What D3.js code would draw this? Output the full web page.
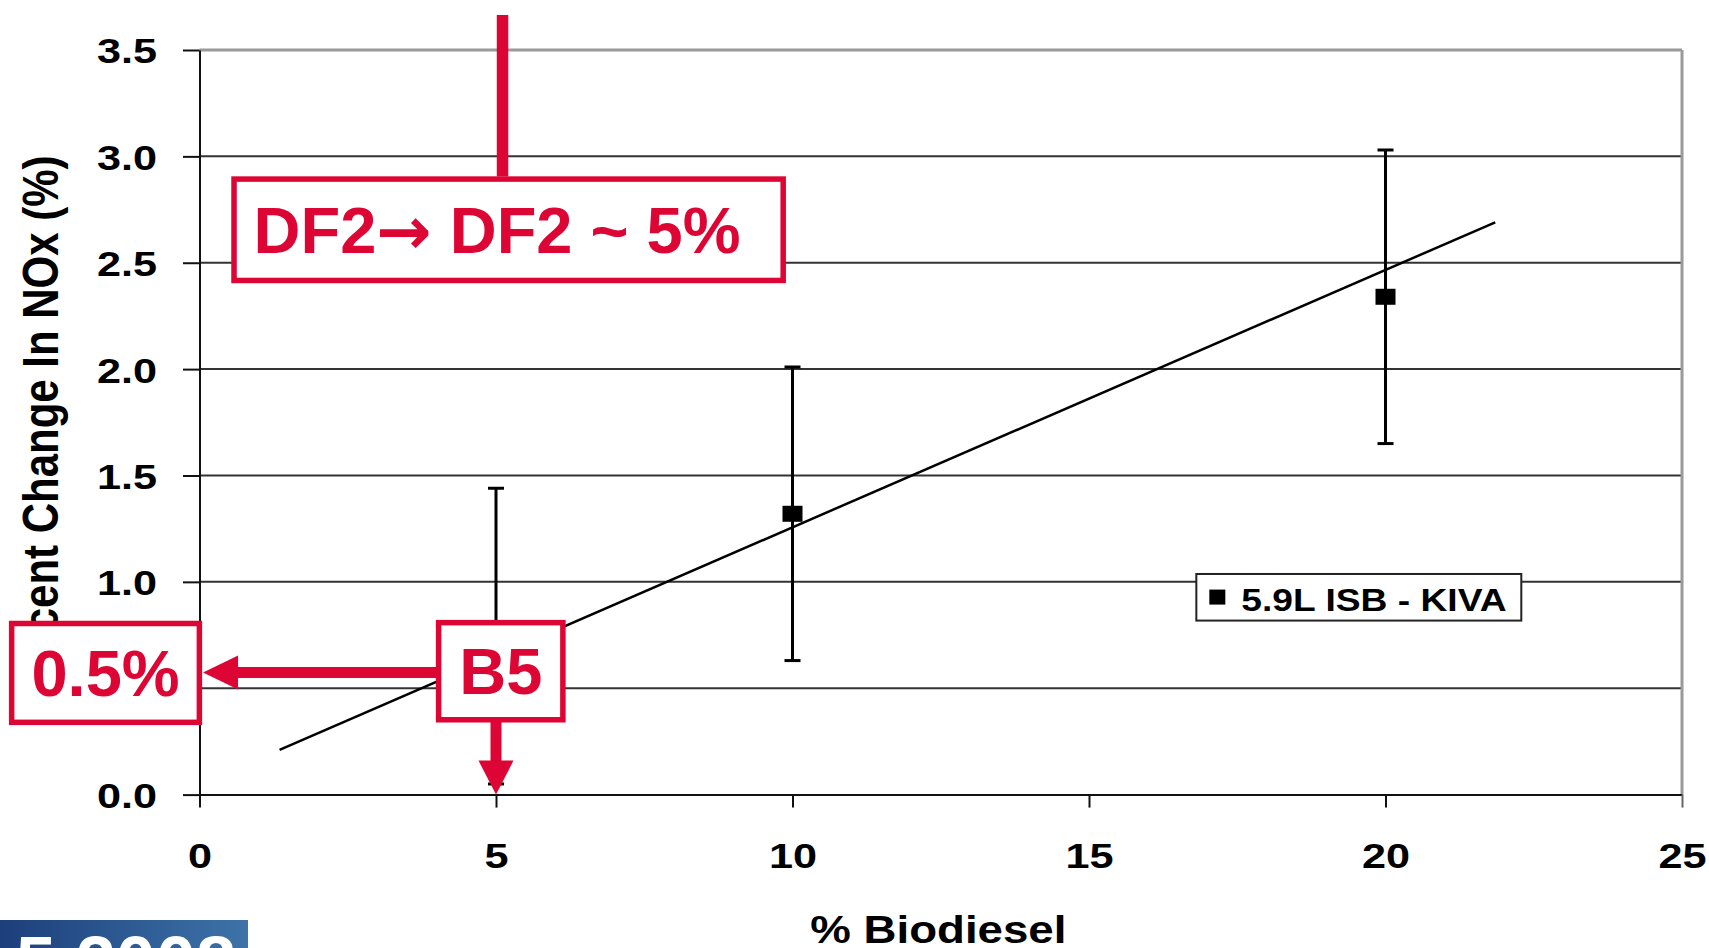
<!DOCTYPE html>
<meta charset="utf-8">
<style>
body { margin: 0; background: #fff; }
text { font-family: "Liberation Sans", Arial, sans-serif; font-weight: bold; }
</style>
<svg width="1709" height="948" id="chart"></svg>
<script src="https://d3js.org/d3.v7.min.js"></script>
<script>
// data
var blends = [5, 10, 20];
var noxMean = [0.74, 1.32, 2.34];
var noxHigh = [1.44, 2.01, 3.03];
var noxLow = [0.05, 0.63, 1.65];
var fitX = [1.35, 21.85];
var fitY = [0.21, 2.69];
var xTicks = [0, 5, 10, 15, 20, 25];
var yTicks = [0, 0.5, 1, 1.5, 2, 2.5, 3, 3.5];
var seriesName = "5.9L ISB - KIVA";
var xTitle = "% Biodiesel";
var yTitle = "Percent Change In NOx (%)";
var noteTop = ["DF2", "\u2192", " DF2 ~ 5%"];
var noteLeft = "0.5%";
var noteBlend = "B5";

var red = "#dd0533";
var svg = d3.select("#chart");

var x = d3.scaleLinear().domain([0, 25]).range([199.5, 1682]);
var y = d3.scaleLinear().domain([0, 3.5]).range([794.6, 50]);

// gridlines
svg.append("g")
  .selectAll("line")
  .data(yTicks.filter(d => d > 0))
  .enter().append("line")
    .attr("x1", x(0)).attr("x2", x(25))
    .attr("y1", d => y(d)).attr("y2", d => y(d))
    .attr("stroke", d => d === 3.5 ? "#9a9a9a" : "#333")
    .attr("stroke-width", d => d === 3.5 ? 3 : 2);

// right border
svg.append("line")
  .attr("x1", x(25)).attr("x2", x(25))
  .attr("y1", y(3.5)).attr("y2", y(0))
  .attr("stroke", "#9a9a9a").attr("stroke-width", 3);

var yAxis = svg.append("g")
  .attr("transform", `translate(${x(0)},0)`)
  .call(d3.axisLeft(y).tickValues(yTicks).tickFormat(d3.format(".1f")).tickSize(16.5).tickSizeOuter(0));
yAxis.select(".domain").attr("stroke", "#111").attr("stroke-width", 2);
yAxis.selectAll(".tick line").attr("stroke", "#111").attr("stroke-width", 2);
yAxis.selectAll(".tick text")
  .attr("x", null).attr("dy", "0.36em")
  .attr("transform", "translate(-42.5,0) scale(1.2,1)")
  .attr("font-size", 36).attr("fill", "#000");

var xAxis = svg.append("g")
  .attr("transform", `translate(0,${y(0)})`)
  .call(d3.axisBottom(x).tickValues(xTicks).tickSize(13).tickSizeOuter(0));
xAxis.select(".domain").attr("stroke", "#111").attr("stroke-width", 2);
xAxis.selectAll(".tick line").attr("stroke", "#111").attr("stroke-width", 2);
xAxis.selectAll(".tick text")
  .attr("x", 0).attr("y", 73.5).attr("dy", null)
  .attr("transform", "scale(1.2,1)")
  .attr("font-size", 36).attr("fill", "#000");
xAxis.selectAll(".tick").filter(d => d === 25).select("line").attr("stroke", "#666");

// axis titles
svg.append("text")
  .attr("transform", `translate(${x(12.46)},943) scale(1.17,1)`)
  .attr("text-anchor", "middle")
  .attr("font-size", 39)
  .text(xTitle);

// the start of this title sits behind the 0.5% box, as on the slide
svg.append("text")
  .attr("transform", "translate(58,699) scale(1.2,1) rotate(-90)")
  .attr("text-anchor", "start")
  .attr("font-size", 42)
  .text(yTitle);

// trend line
svg.append("line")
  .attr("x1", x(fitX[0])).attr("y1", y(fitY[0]))
  .attr("x2", x(fitX[1])).attr("y2", y(fitY[1]))
  .attr("stroke", "#000").attr("stroke-width", 2.5);

// error bars and points
var pts = blends.map((b, i) => ({b: b, m: noxMean[i], hi: noxHigh[i], lo: noxLow[i]}));
var eb = svg.append("g").attr("stroke", "#000").attr("stroke-width", 3);
pts.forEach(function(d) {
  eb.append("line").attr("x1", x(d.b)).attr("x2", x(d.b)).attr("y1", y(d.hi)).attr("y2", y(d.lo));
  eb.append("line").attr("x1", x(d.b) - 8).attr("x2", x(d.b) + 8).attr("y1", y(d.hi)).attr("y2", y(d.hi));
  eb.append("line").attr("x1", x(d.b) - 8).attr("x2", x(d.b) + 8).attr("y1", y(d.lo)).attr("y2", y(d.lo));
});
svg.append("g")
  .selectAll("rect")
  .data(pts)
  .enter().append("rect")
    .attr("x", d => x(d.b) - 10).attr("y", d => y(d.m) - 8)
    .attr("width", 20).attr("height", 16)
    .attr("fill", "#000");

// legend
var lg = {x0: 16.81, x1: 22.29, y0: 0.818, y1: 1.037};
svg.append("rect")
  .attr("x", x(lg.x0)).attr("y", y(lg.y1))
  .attr("width", x(lg.x1) - x(lg.x0)).attr("height", y(lg.y0) - y(lg.y1))
  .attr("fill", "#fff").attr("stroke", "#222").attr("stroke-width", 2);
svg.append("rect")
  .attr("x", x(lg.x0) + 13).attr("y", y(lg.y0) - 31)
  .attr("width", 16).attr("height", 15).attr("fill", "#000");
svg.append("text")
  .attr("transform", `translate(${x(lg.x0) + 45},${y(lg.y0) - 10}) scale(1.2,1)`)
  .attr("font-size", 31)
  .text(seriesName);

// red annotations
var note = svg.append("g");
function boxRect(b) {
  note.append("rect")
    .attr("x", x(b.x0) + 2.5).attr("y", y(b.y1) + 2.5)
    .attr("width", x(b.x1) - x(b.x0) - 5).attr("height", y(b.y0) - y(b.y1) - 5)
    .attr("fill", "#fff").attr("stroke", red).attr("stroke-width", 5.5);
}
function boxLabel(b, label) {
  boxRect(b);
  note.append("text")
    .attr("x", (x(b.x0) + x(b.x1)) / 2)
    .attr("y", (y(b.y0) + y(b.y1)) / 2 + 23)
    .attr("text-anchor", "middle")
    .attr("font-size", 65)
    .attr("fill", red)
    .text(label);
}
var dfBox = {x0: 0.54, x1: 9.885, y0: 2.405, y1: 2.905};
var pctBox = {x0: -3.21, x1: 0.04, y0: 0.328, y1: 0.816};
var b5Box = {x0: 3.99, x1: 6.17, y0: 0.34, y1: 0.82};

note.append("line")
  .attr("x1", x(5.11)).attr("x2", x(5.11))
  .attr("y1", y(3.665)).attr("y2", y(dfBox.y1))
  .attr("stroke", red).attr("stroke-width", 11.5);

// arrow to the y axis
var ay = y(0.574), tipX = x(0.06);
note.append("rect")
  .attr("x", tipX + 30).attr("y", ay - 5.5)
  .attr("width", x(b5Box.x0) - tipX - 30).attr("height", 11).attr("fill", red);
note.append("polygon")
  .attr("points", [[tipX, ay], [tipX + 35, ay - 17], [tipX + 35, ay + 17]].join(" "))
  .attr("fill", red);

// arrow down to x = 5
var ax = x(5), tipY = y(0);
note.append("rect")
  .attr("x", ax - 5.5).attr("y", y(b5Box.y0) - 2)
  .attr("width", 11).attr("height", tipY - 32 - y(b5Box.y0) + 2).attr("fill", red);
note.append("polygon")
  .attr("points", [[ax, tipY], [ax - 17.5, tipY - 34], [ax + 17.5, tipY - 34]].join(" "))
  .attr("fill", red);

boxRect(dfBox);
var dfText = note.append("text")
  .attr("x", x(dfBox.x0) + 22)
  .attr("y", (y(dfBox.y0) + y(dfBox.y1)) / 2 + 23)
  .attr("font-size", 65)
  .attr("fill", red);
dfText.append("tspan").text(noteTop[0]);
dfText.append("tspan").attr("font-family", "DejaVu Sans").attr("font-size", 66).attr("dy", 1).text(noteTop[1]);
dfText.append("tspan").attr("dy", -1).text(noteTop[2]);
boxLabel(pctBox, noteLeft);
boxLabel(b5Box, noteBlend);

// slide logo strip at bottom-left
var grad = svg.append("defs").append("linearGradient").attr("id", "logo");
grad.append("stop").attr("offset", 0).attr("stop-color", "#1d3f7c");
grad.append("stop").attr("offset", 1).attr("stop-color", "#3d73a8");
svg.append("clipPath").attr("id", "logoclip")
  .append("rect").attr("x", 0).attr("y", 920).attr("width", 248).attr("height", 28);
var logo = svg.append("g").attr("clip-path", "url(#logoclip)");
logo.append("rect").attr("x", 0).attr("y", 920).attr("width", 248).attr("height", 28).attr("fill", "url(#logo)");
logo.append("text")
  .attr("x", 236).attr("y", 987)
  .attr("text-anchor", "end")
  .attr("font-size", 72)
  .attr("fill", "#fff")
  .text("5 2008");
</script>
